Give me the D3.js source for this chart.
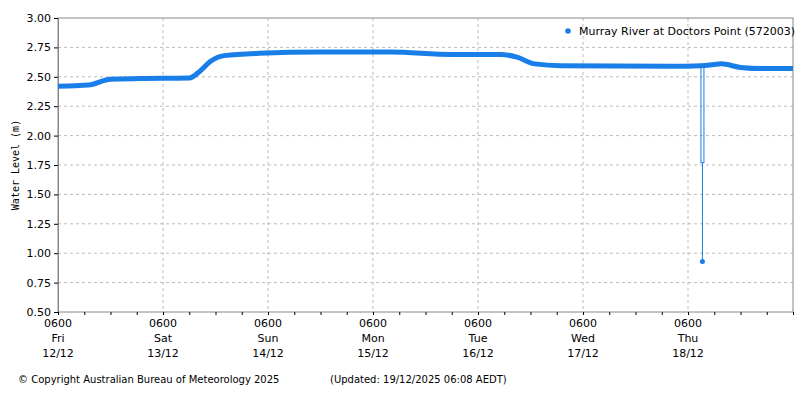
<!DOCTYPE html>
<html><head><meta charset="utf-8">
<script src="https://cdn.jsdelivr.net/npm/d3@7"></script>
<style>body{margin:0;background:#fff}text{font-family:"DejaVu Sans",sans-serif;font-size:11px;fill:#000}</style>
</head><body><svg id="c" width="800" height="400"></svg>
<script>
// hours since Fri 12/12 06:00, water level (m)
const hours = [0, 7, 12, 19, 30, 32.5, 34.8, 38, 46, 60, 76, 90, 101, 104.7, 109, 115, 140, 147, 149, 151.6, 156, 161, 168]
const levels = [2.42, 2.43, 2.48, 2.485, 2.49, 2.55, 2.63, 2.68, 2.70, 2.71, 2.71, 2.69, 2.69, 2.67, 2.61, 2.595, 2.59, 2.595, 2.60, 2.61, 2.58, 2.57, 2.57]
const spikeHour = 147.3, spikeMid = 1.77, spikeLow = 0.93
const dayNames = ['Fri', 'Sat', 'Sun', 'Mon', 'Tue', 'Wed', 'Thu']
const dayDates = ['12/12', '13/12', '14/12', '15/12', '16/12', '17/12', '18/12']
const yTicks = d3.range(0.5, 3.001, 0.25)

const svg = d3.select('#c')
const L = 58, R = 793, T = 18, B = 312
const x = d3.scaleLinear().domain([0, 168]).range([L, R])
const y = d3.scaleLinear().domain([0.5, 3]).range([B, T])
const blue = '#1a7ee8'

// grid
svg.append('g').selectAll('line').data(yTicks.slice(1, -1)).enter().append('line')
  .attr('x1', L).attr('x2', R).attr('y1', d => y(d)).attr('y2', d => y(d))
  .attr('stroke', '#bbb').attr('stroke-dasharray', '3,3')
svg.append('g').selectAll('line').data(d3.range(1, 7)).enter().append('line')
  .attr('y1', T).attr('y2', B).attr('x1', d => x(d * 24)).attr('x2', d => x(d * 24))
  .attr('stroke', '#bbb').attr('stroke-dasharray', '3,3')

// frame
svg.append('rect').attr('x', L).attr('y', T).attr('width', R - L).attr('height', B - T)
  .attr('fill', 'none').attr('stroke', '#888')

// y axis
const ya = svg.append('g').attr('transform', `translate(${L},0)`)
  .call(d3.axisLeft(y).tickValues(yTicks).tickFormat(d3.format('.2f')).tickSize(4))
ya.select('.domain').attr('stroke', '#888')
ya.selectAll('text').style('font-size', '11px').style('font-family', 'DejaVu Sans')

// x axis: minor every 6h
svg.append('g').attr('transform', `translate(0,${B})`)
  .call(d3.axisBottom(x).tickValues(d3.range(0, 169, 6)).tickFormat('').tickSize(3))
  .select('.domain').remove()
const xl = svg.append('g').selectAll('g').data(dayNames).enter().append('g')
  .attr('transform', (d, i) => `translate(${x(i * 24)},${B})`)
xl.append('text').attr('y', 15).attr('text-anchor', 'middle').text('0600')
xl.append('text').attr('y', 30).attr('text-anchor', 'middle').text(d => d)
xl.append('text').attr('y', 45).attr('text-anchor', 'middle').text((d, i) => dayDates[i])

svg.append('text').attr('transform', `translate(19,${(T + B) / 2}) rotate(-90)`)
  .attr('text-anchor', 'middle').style('font-family', 'DejaVu Sans Mono').style('font-size', '10px')
  .text('Water Level (m)')

// data line
const pts = hours.map((h, i) => [h, levels[i]])
svg.append('path').datum(pts)
  .attr('d', d3.line().x(d => x(d[0])).y(d => y(d[1])).curve(d3.curveMonotoneX))
  .attr('fill', 'none').attr('stroke', blue).attr('stroke-width', 5)

// spike
const sx = x(spikeHour)
svg.append('rect').attr('x', sx - 1.5).attr('y', y(2.6)).attr('width', 3).attr('height', y(spikeMid) - y(2.6))
  .attr('fill', 'none').attr('stroke', blue).attr('stroke-width', 1)
svg.append('line').attr('x1', sx).attr('x2', sx).attr('y1', y(spikeMid)).attr('y2', y(spikeLow))
  .attr('stroke', blue).attr('stroke-width', 1)
svg.append('circle').attr('cx', sx).attr('cy', y(spikeLow)).attr('r', 2.5).attr('fill', blue)

// legend
svg.append('circle').attr('cx', 568).attr('cy', 31).attr('r', 2.8).attr('fill', blue)
svg.append('text').attr('x', 579).attr('y', 35).text('Murray River at Doctors Point (572003)')

// footer
svg.append('text').attr('x', 18).attr('y', 383).style('font-size', '10px').text('© Copyright Australian Bureau of Meteorology 2025')
svg.append('text').attr('x', 330).attr('y', 383).style('font-size', '10px').text('(Updated: 19/12/2025 06:08 AEDT)')
</script></body></html>
